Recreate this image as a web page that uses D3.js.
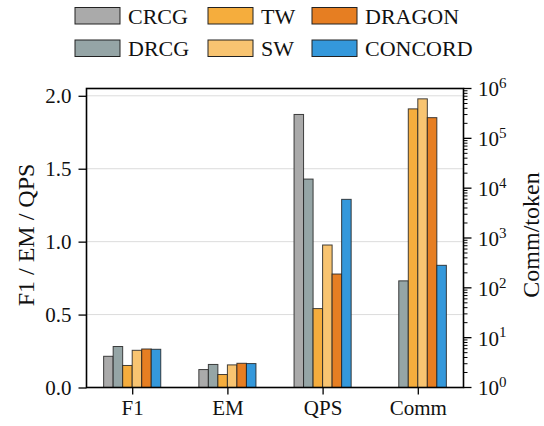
<!DOCTYPE html>
<html>
<head>
<meta charset="utf-8">
<script src="https://cdn.jsdelivr.net/npm/d3@7"></script>
<style>
  body { margin: 0; background: #fff; }
</style>
</head>
<body>
<div class="g-chart"></div>
<script>
//Chart data
var metrics = ["F1", "EM", "QPS", "Comm"];
var methods = ["CRCG", "DRCG", "TW", "SW", "DRAGON", "CONCORD"];
var colors = ["#aaaaaa", "#95a5a6", "#f5ad3d", "#f8c471", "#e67e22", "#3498db"];

// values per method: F1, EM, QPS on left axis, Comm on right (log) axis
var crcg    = [0.214, 0.123, 1.872, null];
var drcg    = [0.281, 0.158, 1.429, 138];
var tw      = [0.151, 0.089, 0.541, 390000];
var sw      = [0.255, 0.155, 0.977, 620000];
var dragon  = [0.264, 0.166, 0.778, 260000];
var concord = [0.262, 0.164, 1.290, 283];
var series = [crcg, drcg, tw, sw, dragon, concord];

var leftTicks = [0.0, 0.5, 1.0, 1.5, 2.0];
var rightTicks = [0, 1, 2, 3, 4, 5, 6];

var FONT = "Liberation Serif";

//Margin conventions
var margin = {top: 88.5, right: 80.5, bottom: 38.5, left: 86.5};
var width = 544 - margin.left - margin.right,
    height = 426 - margin.top - margin.bottom;

var svg = d3.select(".g-chart").append("svg")
  .attr("width", 544)
  .attr("height", 426)
  .attr("font-family", FONT);

var g = svg.append("g")
  .attr("transform", "translate(" + margin.left + "," + margin.top + ")");

//Scales
var barW = 0.1;
var xScale = d3.scaleLinear()
  .domain([-0.48, 3.48])
  .range([0, width]);

var yLeft = d3.scaleLinear()
  .domain([0, 2.05])
  .range([height, 0]);

var yRight = d3.scaleLog()
  .domain([1, 1e6])
  .range([height, 0]);

//Grid lines
g.selectAll(".grid")
  .data(leftTicks.slice(1))
  .enter().append("line")
  .attr("x1", 0).attr("x2", width)
  .attr("y1", function(d) { return yLeft(d); })
  .attr("y2", function(d) { return yLeft(d); })
  .attr("stroke", "#dcdcdc")
  .attr("stroke-width", 1);

//Bars
series.forEach(function(vals, j) {
  vals.forEach(function(v, i) {
    if (v == null) return;
    var x0 = xScale(i + (j - 2.5) * barW - barW / 2);
    var x1 = xScale(i + (j - 2.5) * barW + barW / 2);
    var top = i < 3 ? yLeft(v) : yRight(v);
    g.append("rect")
      .attr("x", x0)
      .attr("y", top)
      .attr("width", x1 - x0)
      .attr("height", height - top)
      .attr("fill", colors[j])
      .attr("stroke", "#222")
      .attr("stroke-opacity", 0.85)
      .attr("stroke-width", 1);
  });
});

//Axes
var xAxis = d3.axisBottom(xScale)
  .tickValues([0, 1, 2, 3])
  .tickFormat(function(d) { return metrics[d]; })
  .tickSize(7).tickPadding(6);

var yAxisL = d3.axisLeft(yLeft)
  .tickValues(leftTicks)
  .tickFormat(d3.format(".1f"))
  .tickSize(8).tickPadding(7);

var xAxisGroup = g.append("g")
  .attr("transform", "translate(0," + height + ")")
  .call(xAxis);

var yAxisGroup = g.append("g").call(yAxisL);

//Right log axis with minor ticks
var minor = [];
for (var e = 0; e < 6; e++) {
  for (var k = 2; k < 10; k++) minor.push(k * Math.pow(10, e));
}
var rightG = g.append("g").attr("transform", "translate(" + width + ",0)");
rightG.selectAll(".minor")
  .data(minor)
  .enter().append("line")
  .attr("x1", 0).attr("x2", 4)
  .attr("y1", function(d) { return yRight(d); })
  .attr("y2", function(d) { return yRight(d); })
  .attr("stroke", "#000").attr("stroke-width", 1);
var major = rightG.selectAll(".major")
  .data(rightTicks)
  .enter().append("g")
  .attr("transform", function(d) { return "translate(0," + yRight(Math.pow(10, d)) + ")"; });
major.append("line")
  .attr("x1", 0).attr("x2", 8)
  .attr("stroke", "#000").attr("stroke-width", 1.3);
var lbl = major.append("text")
  .attr("x", 14.5)
  .attr("dy", "0.38em")
  .attr("font-family", FONT)
  .attr("font-size", 21)
  .attr("fill", "#111");
lbl.append("tspan").text("10");
lbl.append("tspan")
  .attr("dy", "-0.55em")
  .attr("font-size", 15)
  .text(function(d) { return d; });

//Style axes
[xAxisGroup, yAxisGroup].forEach(function(ax) {
  ax.attr("font-family", FONT).attr("font-size", 21);
  ax.select(".domain").remove();
  ax.selectAll(".tick line").attr("stroke", "#000").attr("stroke-width", 1.3);
  ax.selectAll(".tick text")
    .attr("font-family", FONT)
    .attr("font-size", 21)
    .attr("fill", "#111");
});

//Frame
g.append("rect")
  .attr("width", width).attr("height", height)
  .attr("fill", "none")
  .attr("stroke", "#000")
  .attr("stroke-width", 1.6);

//Axis titles
svg.append("text")
  .attr("transform", "translate(34," + (margin.top + height / 2 - 3) + ") rotate(-90)")
  .attr("text-anchor", "middle")
  .attr("font-family", FONT)
  .attr("font-size", 24)
  .attr("fill", "#111")
  .text("F1 / EM / QPS");

svg.append("text")
  .attr("transform", "translate(539," + (margin.top + height / 2 - 3) + ") rotate(-90)")
  .attr("text-anchor", "middle")
  .attr("font-family", FONT)
  .attr("font-size", 24)
  .attr("fill", "#111")
  .text("Comm/token");

//Legend
var legendX = [75, 208, 312];
var legend = svg.append("g");
methods.forEach(function(m, j) {
  var col = j < 2 ? 0 : (j < 4 ? 1 : 2);
  var row = j % 2;
  var lx = legendX[col], ly = 7.5 + row * 32.5;
  legend.append("rect")
    .attr("x", lx).attr("y", ly)
    .attr("width", 45).attr("height", 16.5)
    .attr("fill", colors[j])
    .attr("stroke", "#222")
    .attr("stroke-width", 1);
  legend.append("text")
    .attr("x", lx + 53)
    .attr("y", ly + 8.5)
    .attr("dy", "0.35em")
    .attr("font-family", FONT)
    .attr("font-size", 22)
    .attr("fill", "#111")
    .text(m);
});
</script>
</body>
</html>
